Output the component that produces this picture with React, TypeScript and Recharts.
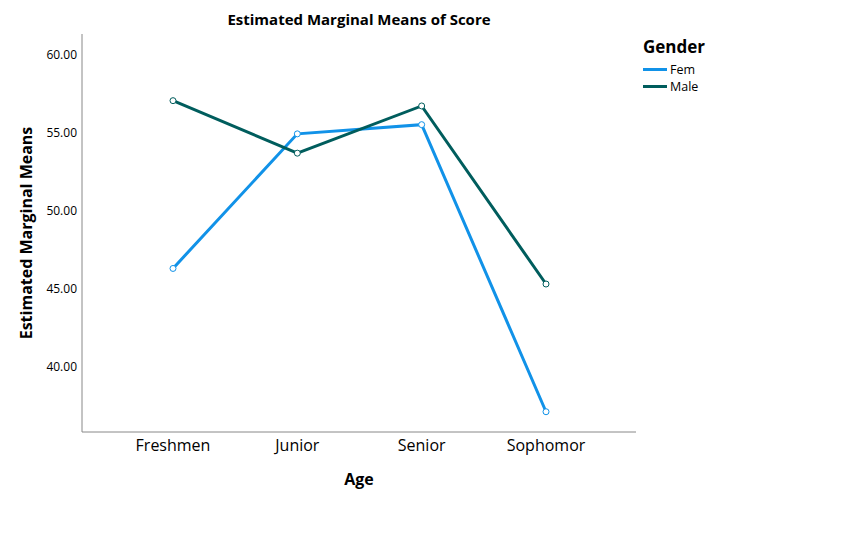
import { LineChart, Line, XAxis, YAxis } from 'recharts';

const ages = ['Freshmen', 'Junior', 'Senior', 'Sophomor'];
const femMeans = [46.3, 54.94, 55.53, 37.1];
const maleMeans = [57.07, 53.7, 56.73, 45.3];
const yTicks = [40, 45, 50, 55, 60];

const FEM = '#1192e8';
const MALE = '#005d5d';
const FONT = '"Open Sans", "DejaVu Sans", sans-serif';

const data = ages.map((age, i) => ({
  age,
  fem: femMeans[i],
  male: maleMeans[i],
}));

const legendItems = [
  { name: 'Fem', color: FEM },
  { name: 'Male', color: MALE },
];

export default function App() {
  return (
    <div style={{ position: 'fixed', left: 0, top: 0, width: 849, height: 545, background: '#fff' }}>
      <div
        style={{
          position: 'absolute',
          top: 9,
          left: 82,
          width: 554,
          textAlign: 'center',
          fontFamily: FONT,
          fontWeight: 700,
          fontSize: 15,
        }}
      >
        Estimated Marginal Means of Score
      </div>
      {/* legend sits outside the plot area, so keep it out of the chart's layout */}
      <div style={{ position: 'absolute', left: 643, top: 36, fontFamily: FONT, color: '#000' }}>
        <div style={{ fontWeight: 700, fontSize: 17, lineHeight: '22px', marginBottom: 3 }}>Gender</div>
        {legendItems.map((s) => (
          <div
            key={s.name}
            style={{ display: 'flex', alignItems: 'center', height: 17, lineHeight: '17px', fontSize: 12.5 }}
          >
            <span style={{ display: 'inline-block', width: 24, height: 3, background: s.color, marginRight: 3 }} />
            {s.name}
          </div>
        ))}
      </div>
      <LineChart
        width={849}
        height={545}
        data={data}
        margin={{ top: 34, right: 213, bottom: 53, left: 22 }}
      >
        <XAxis
          dataKey="age"
          tickLine={false}
          axisLine={{ stroke: '#888' }}
          padding={{ left: 91, right: 90 }}
          height={60}
          tick={{ fill: '#000', fontSize: 16, fontFamily: FONT }}
          label={{
            value: 'Age',
            position: 'insideBottom',
            offset: 7,
            style: { fontWeight: 700, fontSize: 16, fill: '#000', fontFamily: FONT },
          }}
        />
        <YAxis
          domain={[35.8, 61.35]}
          ticks={yTicks}
          width={60}
          tickLine={false}
          tickSize={3}
          axisLine={{ stroke: '#888' }}
          tickFormatter={(v: number) => v.toFixed(2)}
          tick={{ fill: '#000', fontSize: 12, fontFamily: FONT }}
          label={{
            value: 'Estimated Marginal Means',
            angle: -90,
            position: 'insideLeft',
            offset: 4,
            style: { textAnchor: 'middle', fontWeight: 700, fontSize: 16, fill: '#000', fontFamily: FONT },
          }}
          allowDataOverflow
        />
        <Line
          dataKey="fem"
          name="Fem"
          type="linear"
          stroke={FEM}
          strokeWidth={3}
          dot={{ r: 3, fill: '#fff', stroke: FEM, strokeWidth: 1 }}
          activeDot={false}
          isAnimationActive={false}
        />
        <Line
          dataKey="male"
          name="Male"
          type="linear"
          stroke={MALE}
          strokeWidth={3}
          dot={{ r: 3, fill: '#fff', stroke: MALE, strokeWidth: 1 }}
          activeDot={false}
          isAnimationActive={false}
        />
      </LineChart>
    </div>
  );
}
